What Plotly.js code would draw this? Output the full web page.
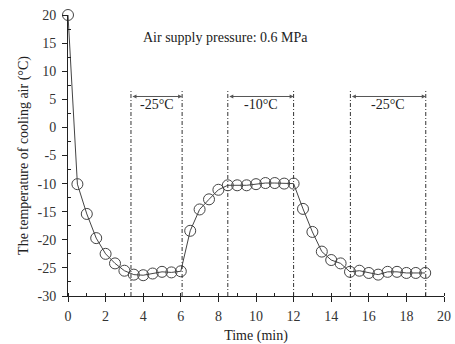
<!DOCTYPE html>
<html>
<head>
<meta charset="utf-8">
<script src="https://cdn.plot.ly/plotly-3.0.1.min.js"></script>
<style>html,body{margin:0;padding:0;background:#fff;}#chart{width:455px;height:344px;}</style>
</head>
<body>
<div id="chart"></div>
<script>
const timeMin = [0,0.5,1,1.5,2,2.5,3,3.5,4,4.5,5,5.5,6,6.5,7,7.5,8,8.5,9,9.5,10,10.5,11,11.5,12,12.5,13,13.5,14,14.5,15,15.5,16,16.5,17,17.5,18,18.5,19];
const tempC = [20,-10.1,-15.4,-19.7,-22.5,-24.2,-25.5,-26.2,-26.3,-26.0,-25.7,-25.8,-25.6,-18.4,-14.6,-12.8,-11.1,-10.3,-10.3,-10.3,-10.1,-9.9,-9.9,-10.0,-10.0,-14.5,-18.6,-22.1,-23.6,-24.2,-25.7,-25.5,-25.9,-26.2,-25.7,-25.7,-25.9,-25.9,-25.9];
const yTickVals = [-30,-25,-20,-15,-10,-5,0,5,10,15,20];
const yTickText = ['-30','-25','-20','-15','-10','-5','0','5','10','15','20'];
const yMinorVals = [-27.5,-22.5,-17.5,-12.5,-7.5,-2.5,2.5,7.5,12.5,17.5];
const phaseStart = [3.35, 8.5, 15.02];
const phaseEnd = [6.07, 12.0, 19.03];
const phaseLabels = ['-25°C', '-10°C', '-25°C'];
const lineTop = 6.8;
const arrowY = 5.5;
const labelY = 4.1;

const serif = 'Liberation Serif, Times New Roman, serif';
const shapes = [];
const annotations = [];
for (let i = 0; i < phaseStart.length; i++) {
  [phaseStart[i], phaseEnd[i]].forEach(x => {
    shapes.push({type:'line', xref:'x', yref:'y', x0:x, x1:x, y0:-30, y1:lineTop,
      line:{color:'#333', width:1, dash:'4px,2px,1px,2px'}});
  });
  annotations.push({xref:'x', yref:'y', axref:'x', ayref:'y',
    x: phaseEnd[i], y: arrowY, ax: phaseStart[i], ay: arrowY,
    showarrow:true, arrowside:'end+start', arrowhead:2, arrowsize:0.8, arrowwidth:1,
    arrowcolor:'#555', text:'', standoff:0, startstandoff:0});
  annotations.push({xref:'x', yref:'y', x:(phaseStart[i]+phaseEnd[i])/2, y:labelY,
    text: phaseLabels[i], showarrow:false, yanchor:'middle',
    font:{family:serif, size:14, color:'#222'}});
}
annotations.push({xref:'paper', yref:'paper', x:0.42, y:0.92, xanchor:'center', yanchor:'middle',
  text:'Air supply pressure: 0.6 MPa',
  showarrow:false, font:{family:serif, size:14, color:'#222'}});

const trace = {x: timeMin, y: tempC, mode:'lines+markers', type:'scatter', cliponaxis:false,
  line:{color:'#444', width:1},
  marker:{symbol:'circle-open', size:11, color:'#444', line:{width:1, color:'#444'}}};

const layout = {
  width:455, height:344,
  margin:{l:68, r:11, t:15, b:48},
  paper_bgcolor:'#fff', plot_bgcolor:'#fff',
  showlegend:false,
  font:{family:serif, size:14, color:'#222'},
  xaxis:{range:[0,20], dtick:2, tick0:0, showgrid:false, zeroline:false,
    showline:true, linecolor:'#222', linewidth:1, ticks:'outside', ticklen:5, tickcolor:'#222',
    tickfont:{family:serif, size:14, color:'#333'}, ticklabelstandoff:2,
    minor:{dtick:1, ticks:'inside', ticklen:3, tickcolor:'#222'},
    title:{text:'Time (min)', font:{family:serif, size:14}, standoff:10}},
  yaxis:{range:[-30,20], tickmode:'array', tickvals:yTickVals, ticktext:yTickText,
    showgrid:false, zeroline:false,
    showline:true, linecolor:'#222', linewidth:1, ticks:'outside', ticklen:5, tickcolor:'#222',
    tickfont:{family:serif, size:14, color:'#333'}, ticklabelstandoff:3,
    minor:{tickmode:'array', tickvals:yMinorVals, ticks:'inside', ticklen:3, tickcolor:'#222'},
    title:{text:'The temperature of cooling air (°C)', font:{family:serif, size:14}, standoff:5}},
  shapes: shapes,
  annotations: annotations
};
Plotly.newPlot('chart', [trace], layout, {displayModeBar:false, staticPlot:true});
</script>
</body>
</html>
